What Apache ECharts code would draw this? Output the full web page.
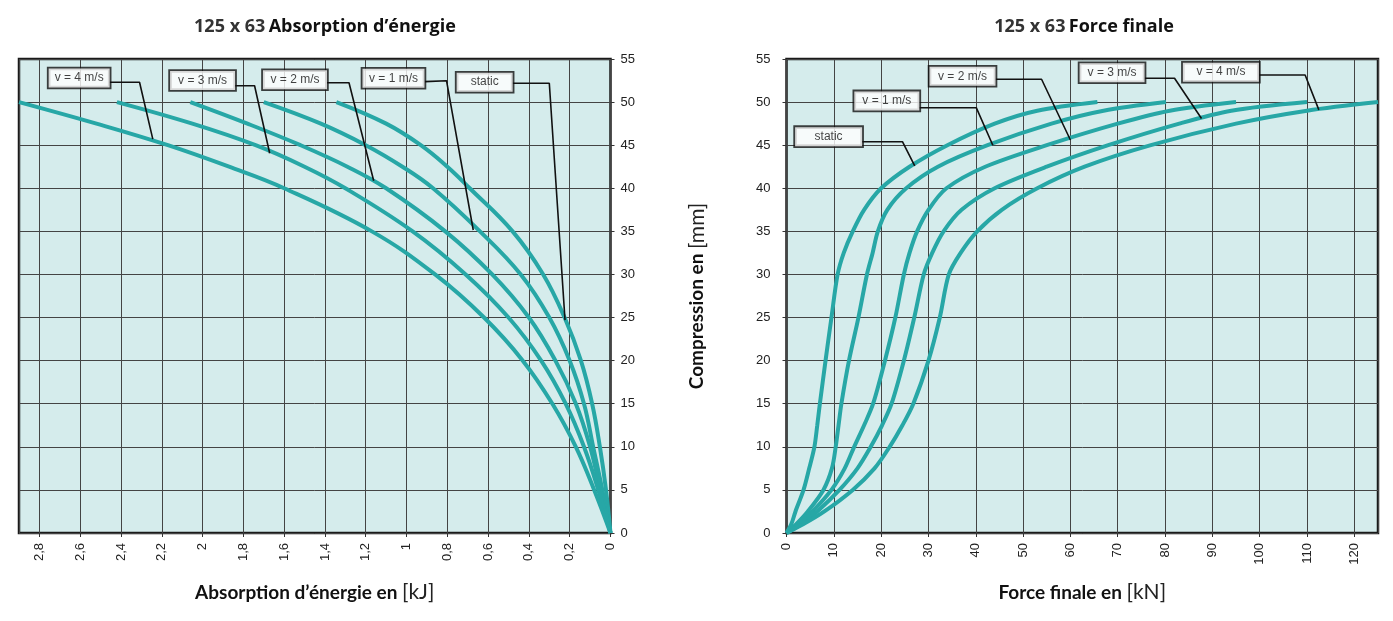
<!DOCTYPE html>
<html><head><meta charset="utf-8">
<script src="https://cdn.jsdelivr.net/npm/echarts@6/dist/echarts.min.js"></script>
<style>html,body{margin:0;padding:0;background:#fff}#c{width:1393px;height:621px}</style>
</head><body><div id="c"></div>
<script>
// ---------- DATA ----------
// Left chart: energy absorption [kJ] at given compression [mm]
const energyMM = [0, 5, 10, 15, 20, 25, 30, 35, 40, 42.5, 45, 47.5, 50];
const energyStatic = [0, 0.022, 0.052, 0.09, 0.145, 0.225, 0.33, 0.48, 0.69, 0.80, 0.93, 1.10, 1.344];
const energyV1 = [0, 0.04, 0.085, 0.13, 0.20, 0.30, 0.44, 0.64, 0.87, 1.02, 1.20, 1.42, 1.70];
const energyV2 = [0, 0.05, 0.10, 0.17, 0.27, 0.40, 0.58, 0.81, 1.10, 1.29, 1.52, 1.78, 2.06];
const energyV3 = [0, 0.06, 0.13, 0.22, 0.34, 0.50, 0.71, 0.97, 1.30, 1.50, 1.74, 2.05, 2.42];
const energyV4 = [0, 0.08, 0.17, 0.285, 0.43, 0.62, 0.86, 1.17, 1.60, 1.87, 2.17, 2.52, 2.90];

// Right chart: end force [kN] at given compression [mm]
const forceMM = [0, 1, 2.5, 5, 7.5, 10, 12.5, 15, 20, 25, 30, 32.5, 35, 37.5, 40, 42.5, 45, 47.5, 49, 50];
const forceStatic = [0, 1.0, 1.9, 3.6, 4.8, 5.9, 6.5, 7.05, 8.25, 9.5, 10.8, 12.1, 14.0, 16.4, 20.0, 26.0, 34.0, 44.0, 53.0, 65.7];
const forceV1 = [0, 2.0, 4.5, 7.8, 9.6, 10.4, 11.0, 11.6, 13.2, 15.2, 17.0, 18.2, 19.3, 21.3, 25.3, 32.0, 42.5, 56.0, 67.0, 80.2];
const forceV2 = [0, 2.5, 5.5, 9.5, 12.3, 14.3, 16.4, 18.3, 20.8, 23.0, 24.8, 26.0, 27.6, 30.0, 33.8, 42.0, 55.0, 70.0, 81.0, 95.0];
const forceV3 = [0, 3.0, 6.5, 11.2, 15.0, 17.8, 20.2, 22.2, 24.8, 27.0, 29.0, 30.8, 33.2, 37.0, 44.0, 55.0, 68.0, 83.0, 94.0, 110.0];
const forceV4 = [0, 3.5, 8.0, 14.0, 18.6, 21.8, 24.5, 26.8, 30.0, 32.4, 34.3, 36.8, 40.3, 45.5, 53.0, 63.0, 77.0, 95.0, 110.0, 125.0];

const seriesNames = ['static', 'v = 1 m/s', 'v = 2 m/s', 'v = 3 m/s', 'v = 4 m/s'];
const energyTicksMax = 2.9, energyInterval = 0.2;
const forceTicksMax = 125, forceInterval = 10;
const compMax = 55, compInterval = 5;

// Callouts (data coordinates of each chart): box centre and leader path
const leftCallouts = [
  {text: 'v = 4 m/s', box: [2.605, 52.8], w: 61, path: [[2.456, 52.3], [2.309, 52.3], [2.244, 45.7]]},
  {text: 'v = 3 m/s', box: [2.0, 52.5], w: 65, path: [[1.843, 51.9], [1.745, 51.9], [1.671, 44.06]]},
  {text: 'v = 2 m/s', box: [1.547, 52.6], w: 64, path: [[1.391, 52.25], [1.282, 52.25], [1.161, 40.88]]},
  {text: 'v = 1 m/s', box: [1.064, 52.76], w: 62, path: [[0.910, 52.37], [0.804, 52.48], [0.673, 35.16]]},
  {text: 'static', box: [0.617, 52.31], w: 56, path: [[0.48, 52.18], [0.30, 52.18], [0.223, 24.7]]}
];
const rightCallouts = [
  {text: 'v = 2 m/s', box: [37.2, 53.0], w: 66, path: [[44.2, 52.65], [53.9, 52.65], [60.0, 45.6]]},
  {text: 'v = 1 m/s', box: [21.2, 50.14], w: 65, path: [[28.05, 49.35], [40.1, 49.35], [43.6, 44.99]]},
  {text: 'static', box: [8.9, 45.99], w: 67, path: [[15.94, 45.4], [24.5, 45.4], [27.1, 42.6]]},
  {text: 'v = 3 m/s', box: [68.8, 53.4], w: 65, path: [[75.7, 52.76], [82.0, 52.76], [87.7, 48.1]]},
  {text: 'v = 4 m/s', box: [91.8, 53.47], w: 76, path: [[99.85, 53.14], [109.6, 53.14], [112.5, 49.1]]}
];

// ---------- STYLE ----------
const TEAL = '#27a7a6';
const BG = '#d5ecec';
const GRIDLINE = '#444';
const TICKFONT = 'Liberation Sans, Arial, sans-serif';
const NAMEFONT = 'Lato, Open Sans, sans-serif';

function pairs(xs, ys) { return ys.map((v, i) => [v, xs[i]]); }
function fmtComma(v) { return String(Math.round(v * 10) / 10).replace('.', ','); }

const energySets = [energyStatic, energyV1, energyV2, energyV3, energyV4];
const forceSets = [forceStatic, forceV1, forceV2, forceV3, forceV4];

const series = [];
energySets.forEach((s, i) => series.push({
  name: seriesNames[i], type: 'line', xAxisIndex: 0, yAxisIndex: 0,
  data: pairs(energyMM, s), showSymbol: false, symbol: 'none', smooth: 0.4,
  lineStyle: {color: TEAL, width: 4}, z: 3, silent: true
}));
forceSets.forEach((s, i) => series.push({
  name: seriesNames[i], type: 'line', xAxisIndex: 1, yAxisIndex: 1,
  data: pairs(forceMM, s), showSymbol: false, symbol: 'none', smooth: 0.3,
  lineStyle: {color: TEAL, width: 4}, z: 3, silent: true
}));

function addCallouts(list, idx) {
  list.forEach(c => {
    series.push({
      type: 'line', xAxisIndex: idx, yAxisIndex: idx, data: c.path, symbol: 'none',
      lineStyle: {color: '#111', width: 1.6}, z: 8, silent: true, smooth: false
    });
    series.push({
      type: 'scatter', xAxisIndex: idx, yAxisIndex: idx, data: [c.box], symbolSize: 1,
      itemStyle: {color: 'transparent'}, z: 10, silent: true,
      label: {
        show: true, position: 'inside', formatter: c.text, width: c.w, align: 'center',
        backgroundColor: '#fff', borderColor: '#111', borderWidth: 1.8, padding: [3, 0],
        fontSize: 12, lineHeight: 13, fontFamily: TICKFONT, color: '#111'
      }
    });
  });
}
addCallouts(leftCallouts, 0);
addCallouts(rightCallouts, 1);

const commonAxis = {
  axisLine: {show: false},
  axisTick: {show: true, length: 4, lineStyle: {color: '#333'}},
  splitLine: {show: true, lineStyle: {color: GRIDLINE, width: 1}},
};
const nameRich = {
  b: {fontFamily: NAMEFONT, fontWeight: 'bold', fontSize: 19, color: '#111'},
  u: {fontFamily: NAMEFONT, fontSize: 21, color: '#222'}
};
const titleRich = {
  a: {font: 'bold 18px Open Sans, sans-serif', fill: '#333'},
  b: {font: 'bold 18px Open Sans, sans-serif', fill: '#111'}
};

const option = {
  animation: false,
  backgroundColor: '#fff',
  graphic: [
    {type: 'text', x: 325, y: 27, style: {text: '{a|125 x 63} {b|Absorption d’énergie}', align: 'center', verticalAlign: 'middle', rich: titleRich}},
    {type: 'text', x: 1084, y: 27, style: {text: '{a|125 x 63} {b|Force finale}', align: 'center', verticalAlign: 'middle', rich: titleRich}}
  ],
  grid: [
    {left: 19, top: 59, width: 591.5, height: 474, show: true, backgroundColor: BG, borderColor: '#1a1a1a', borderWidth: 2.5, containLabel: false},
    {left: 786.5, top: 59, width: 591.5, height: 474, show: true, backgroundColor: BG, borderColor: '#1a1a1a', borderWidth: 2.5, containLabel: false}
  ],
  xAxis: [
    Object.assign({}, commonAxis, {
      gridIndex: 0, type: 'value', min: 0, max: energyTicksMax, interval: energyInterval, inverse: true,
      axisLabel: {rotate: 90, margin: 10, fontSize: 13, color: '#222', fontFamily: TICKFONT, formatter: fmtComma, showMaxLabel: false},
      name: '{b|Absorption d’énergie en }{u|[kJ]}', nameLocation: 'middle', nameGap: 49,
      nameTextStyle: {rich: nameRich}
    }),
    Object.assign({}, commonAxis, {
      gridIndex: 1, type: 'value', min: 0, max: forceTicksMax, interval: forceInterval,
      axisLabel: {rotate: 90, margin: 10, fontSize: 13, color: '#222', fontFamily: TICKFONT, showMaxLabel: false},
      name: '{b|Force finale en }{u|[kN]}', nameLocation: 'middle', nameGap: 49,
      nameTextStyle: {rich: nameRich}
    })
  ],
  yAxis: [
    Object.assign({}, commonAxis, {
      gridIndex: 0, type: 'value', min: 0, max: compMax, interval: compInterval, position: 'right',
      axisLabel: {margin: 10, fontSize: 13, color: '#222', fontFamily: TICKFONT}
    }),
    Object.assign({}, commonAxis, {
      gridIndex: 1, type: 'value', min: 0, max: compMax, interval: compInterval, position: 'left',
      axisLabel: {margin: 16, fontSize: 13, color: '#222', fontFamily: TICKFONT},
      name: '{b|Compression en }{u|[mm]}', nameLocation: 'middle', nameGap: 79, nameRotate: 90,
      nameTextStyle: {rich: nameRich}
    })
  ],
  series: series
};

const chart = echarts.init(document.getElementById('c'), null, {renderer: 'canvas'});
chart.setOption(option);
</script>
</body></html>
